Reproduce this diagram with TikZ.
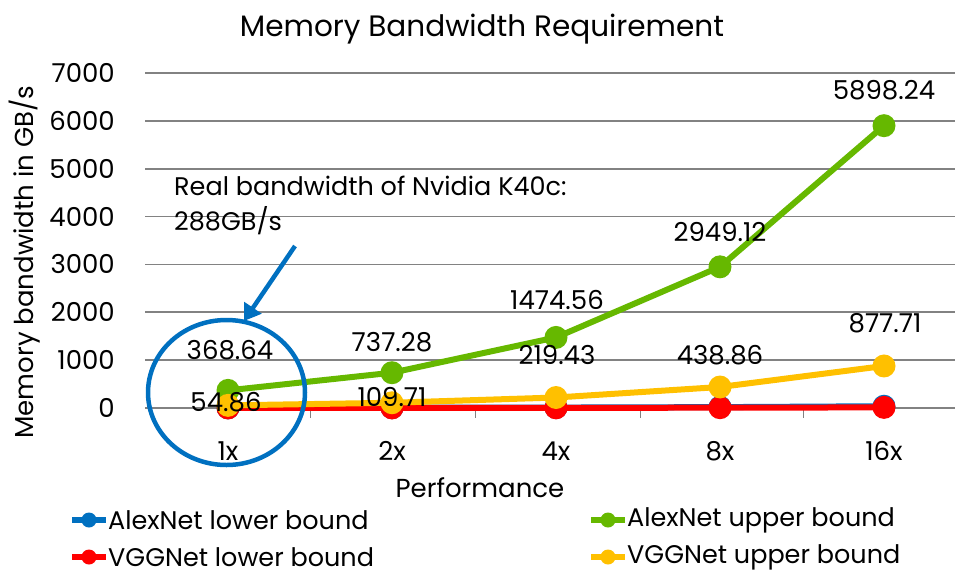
\documentclass[tikz,border=0pt]{standalone}
\usepackage{fontspec}
\setmainfont{Poppins}
\usetikzlibrary{arrows.meta,shapes.geometric}
\definecolor{cblue}{RGB}{0,112,192}
\definecolor{cgreen}{RGB}{102,184,0}
\definecolor{cred}{RGB}{255,0,0}
\definecolor{cyel}{RGB}{255,192,0}
\definecolor{cgrid}{RGB}{130,130,130}
\begin{document}
\begin{tikzpicture}[x=1pt,y=-1pt,
  grid/.style={cgrid,line width=1.8pt},
  serie/.style={line width=6pt,line join=round,line cap=round},
  mk/.style={circle,inner sep=0pt,minimum size=23pt},
  lgmk/.style={circle,inner sep=0pt,minimum size=15pt},
  ticklab/.style={font=\fontsize{26}{30}\selectfont,inner sep=0pt},
  datalab/.style={font=\fontsize{26}{30}\selectfont,inner sep=0pt},
  lglab/.style={font=\fontsize{25.5}{30}\selectfont,inner sep=0pt,anchor=west}]
\useasboundingbox (0,0) rectangle (958,576);
\def\yv#1{408-#1*0.04786}
% title
\node[font=\fontsize{29.5}{36}\selectfont,inner sep=0pt] (title) at (482,29) {Memory Bandwidth Requirement};
% gridlines
\foreach \v in {1000,2000,...,7000}{
  \draw[grid] (145,{\yv{\v}}) -- (955,{\yv{\v}});
}
\draw[grid] (145,408) -- (955,408);
\foreach \xx in {310,475,640,803}{ \draw[cgrid,line width=1pt] (\xx,408) -- (\xx,418); }
% y tick labels
\foreach \v in {0,1000,2000,...,7000}{
  \node[ticklab,anchor=east] (yt\v) at (115,{\yv{\v}}) {\v};
}
% axis titles
\node[font=\fontsize{26}{30}\selectfont,inner sep=0pt,rotate=90] (ytitle) at (25,262) {Memory bandwidth in GB/s};
\node[font=\fontsize{26}{30}\selectfont,inner sep=0pt] (xtitle) at (480,488) {Performance};
% x tick labels
\foreach \lab [count=\i from 0] in {1x,2x,4x,8x,16x}{
  \node[ticklab] (xt\i) at ({228+164*\i},451) {\lab};
}
% series: AlexNet lower (blue)
\foreach \v [count=\i from 0] in {2.3,4.6,9.2,18.4,36.9}{ \coordinate (b\i) at ({228+164*\i},{\yv{\v}}); }
\draw[serie,cblue] (b0) -- (b1) -- (b2) -- (b3) -- (b4);
\foreach \i in {0,...,4}{ \node[mk,fill=cblue] (bm\i) at (b\i) {}; }
% AlexNet upper (green)
\foreach \v [count=\i from 0] in {368.64,737.28,1474.56,2949.12,5898.24}{ \coordinate (g\i) at ({228+164*\i},{\yv{\v}}); }
\draw[serie,cgreen] (g0) -- (g1) -- (g2) -- (g3) -- (g4);
\foreach \i in {0,...,4}{ \node[mk,fill=cgreen] (gm\i) at (g\i) {}; }
% VGGNet lower (red)
\foreach \v [count=\i from 0] in {0.8,1.6,3.2,6.4,12.8}{ \coordinate (r\i) at ({228+164*\i},{\yv{\v}}); }
\draw[serie,cred] (r0) -- (r1) -- (r2) -- (r3) -- (r4);
\foreach \i in {0,...,4}{ \node[mk,fill=cred] (rm\i) at (r\i) {}; }
% VGGNet upper (yellow)
\foreach \v [count=\i from 0] in {54.86,109.71,219.43,438.86,877.71}{ \coordinate (y\i) at ({228+164*\i},{\yv{\v}}); }
\draw[serie,cyel] (y0) -- (y1) -- (y2) -- (y3) -- (y4);
\foreach \i in {0,...,4}{ \node[mk,fill=cyel] (ym\i) at (y\i) {}; }
% data labels
\node[datalab] (lg0) at (230,350) {368.64};
\node[datalab] (lg1) at (392,342) {737.28};
\node[datalab] (lg2) at (557,300) {1474.56};
\node[datalab] (lg3) at (720,232) {2949.12};
\node[datalab] (lg4) at (884,90) {5898.24};
\node[datalab] (ly0) at (226,402) {54.86};
\node[datalab] (ly1) at (392,397) {109.71};
\node[datalab] (ly2) at (557,355) {219.43};
\node[datalab] (ly3) at (720,355) {438.86};
\node[datalab] (ly4) at (885,323) {877.71};
% annotation
\node[font=\fontsize{25.5}{35}\selectfont,inner sep=0pt,anchor=north west,align=left] (note) at (174,176) {Real bandwidth of Nvidia K40c:\\288GB/s};
\node[draw=cblue,line width=4.5pt,ellipse,minimum width=157pt,minimum height=145pt,inner sep=0pt] (circ) at (226.5,392.5) {};
\coordinate (arrs) at (295,246);
\coordinate (arrt) at (244,321);
\draw[cblue,line width=4.5pt,-{Triangle[length=16pt,width=20pt]}] (arrs) -- (arrt);
% legend
\coordinate (la1) at (72,520); \coordinate (la2) at (106,520);
\draw[cblue,line width=6pt] (la1) -- (la2); \node[lgmk,fill=cblue] (lam) at (89,520) {};
\node[lglab] (lat) at (108,520) {AlexNet lower bound};
\coordinate (lb1) at (72,557); \coordinate (lb2) at (106,557);
\draw[cred,line width=6pt] (lb1) -- (lb2); \node[lgmk,fill=cred] (lbm) at (89,557) {};
\node[lglab] (lbt) at (108,557) {VGGNet lower bound};
\coordinate (lc1) at (591,520); \coordinate (lc2) at (625,520);
\draw[cgreen,line width=6pt] (lc1) -- (lc2); \node[lgmk,fill=cgreen] (lcm) at (608,520) {};
\node[lglab] (lct) at (627,520) {AlexNet upper bound};
\coordinate (ld1) at (591,557); \coordinate (ld2) at (625,557);
\draw[cyel,line width=6pt] (ld1) -- (ld2); \node[lgmk,fill=cyel] (ldm) at (608,557) {};
\node[lglab] (ldt) at (627,557) {VGGNet upper bound};
\end{tikzpicture}
\end{document}
